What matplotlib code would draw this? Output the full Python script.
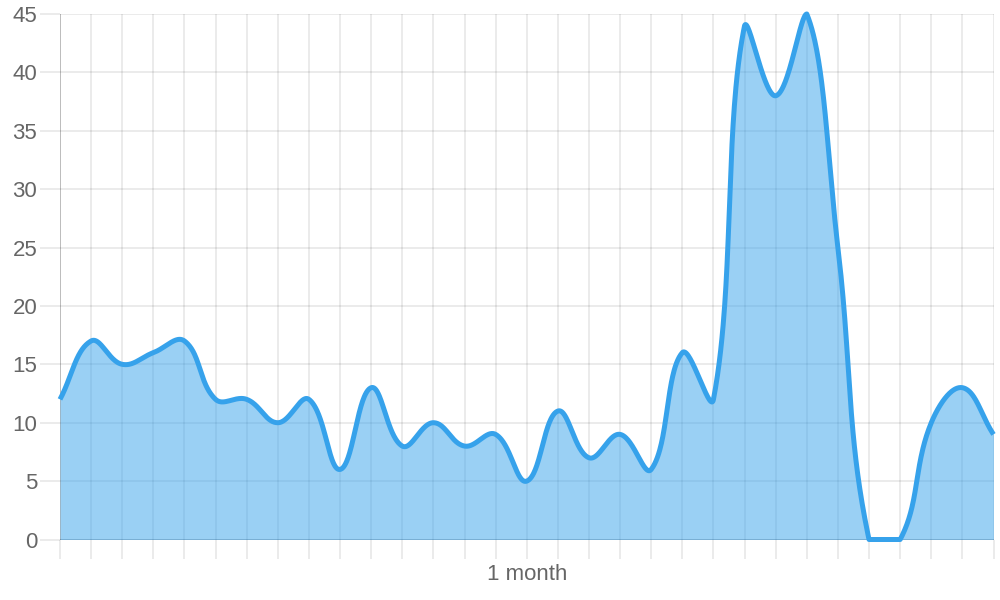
import numpy as np
import matplotlib
matplotlib.use("Agg")
import matplotlib.pyplot as plt

# ---- data ----
values = [12, 17, 15, 16, 17, 12, 12, 10, 12, 6, 13, 8, 10, 8, 9, 5,
          11, 7, 9, 6, 16, 12, 44, 38, 45, 25, 0, 0, 10, 13, 9]
x_labels = [""] * 15 + ["1 month"] + [""] * 15
y_ticks = [0, 5, 10, 15, 20, 25, 30, 35, 40, 45]

plt.rcParams['font.family'] = ['Liberation Sans', 'DejaVu Sans']

W, H, DPI = 1000, 600, 100
fig = plt.figure(figsize=(W / DPI, H / DPI), dpi=DPI)
left, right, top, bottom = 60, 993.5, 14, 539.5
ax = fig.add_axes([left / W, 1 - bottom / H, (right - left) / W, (bottom - top) / H])

n = len(values)
ymin, ymax = y_ticks[0], y_ticks[-1]
sx = (right - left) / (n - 1)
sy = (bottom - top) / (ymax - ymin)

# Chart.js-style bezier spline (tension 0.4) computed in pixel space, control points capped to area
px = np.arange(n) * sx
py = (np.array(values, dtype=float) - ymin) * sy
t = 0.4
prev_c, next_c = [], []
for i in range(n):
    x0, y0 = (px[i - 1], py[i - 1]) if i > 0 else (px[i], py[i])
    x2, y2 = (px[i + 1], py[i + 1]) if i < n - 1 else (px[i], py[i])
    d01 = np.hypot(px[i] - x0, py[i] - y0)
    d12 = np.hypot(x2 - px[i], y2 - py[i])
    s = d01 + d12
    s01 = d01 / s if s else 0.0
    s12 = d12 / s if s else 0.0
    fa, fb = t * s01, t * s12
    pc = [px[i] - fa * (x2 - x0), py[i] - fa * (y2 - y0)]
    nc = [px[i] + fb * (x2 - x0), py[i] + fb * (y2 - y0)]
    for c in (pc, nc):
        c[0] = min(max(c[0], 0), px[-1])
        c[1] = min(max(c[1], 0), (ymax - ymin) * sy)
    prev_c.append(pc)
    next_c.append(nc)

xs, ys = [], []
u = np.linspace(0, 1, 60)
for i in range(n - 1):
    P0 = np.array([px[i], py[i]])
    P1 = np.array(next_c[i])
    P2 = np.array(prev_c[i + 1])
    P3 = np.array([px[i + 1], py[i + 1]])
    uu = u[:, None] if i == 0 else u[1:, None]
    B = ((1 - uu) ** 3) * P0 + 3 * ((1 - uu) ** 2) * uu * P1 + 3 * (1 - uu) * uu ** 2 * P2 + uu ** 3 * P3
    xs.extend(B[:, 0] / sx)
    ys.extend(B[:, 1] / sy + ymin)
xs = np.array(xs)
ys = np.array(ys)

ax.set_xlim(0, n - 1)
ax.set_ylim(ymin, ymax)
ax.set_axisbelow(True)

ax.fill_between(xs, ys, ymin, color=(54 / 255, 162 / 255, 235 / 255), alpha=0.5, lw=0, zorder=2)
ax.plot(xs, ys, color='#36A2EB', lw=3.6, solid_joinstyle='round', solid_capstyle='butt',
        zorder=3, clip_on=False)

grid_c = (0, 0, 0, 0.1)
zero_c = (0, 0, 0, 0.25)
ax.set_xticks(range(n))
ax.set_xticklabels(x_labels)
ax.set_yticks(y_ticks)
ax.set_yticklabels([str(v) for v in y_ticks])
ax.grid(True, color='black', alpha=0.1, lw=1.1)
for s in ax.spines.values():
    s.set_visible(False)
ax.axhline(ymin, color='black', alpha=0.25, lw=1.1, zorder=1.5)
ax.axvline(0, color='black', alpha=0.25, lw=1.1, zorder=1.5)

ax.tick_params(axis='x', length=14, width=1.1, color=grid_c, pad=4, labelsize=16, labelcolor='#666666')
ax.tick_params(axis='y', length=14.4, width=1.1, color=grid_c, pad=2, labelsize=16, labelcolor='#666666')
ax.xaxis.get_major_ticks()[0].tick1line.set_color(zero_c)
ax.yaxis.get_major_ticks()[0].tick1line.set_color(zero_c)

fig.savefig("out.png", dpi=DPI)
